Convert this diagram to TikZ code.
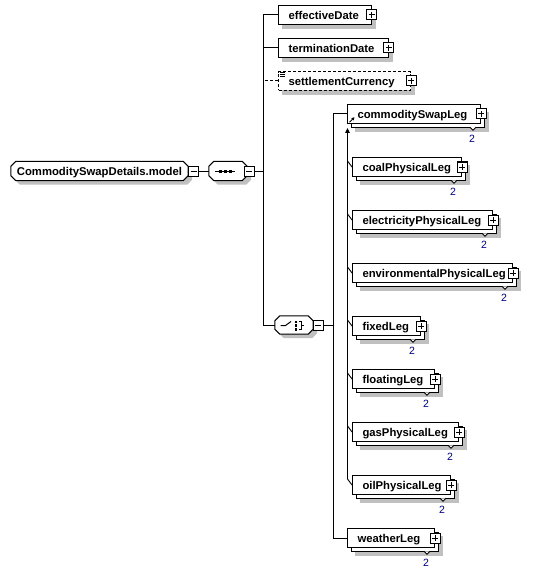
\documentclass[tikz,border=0pt]{standalone}
\usepackage{fontspec}
\setmainfont{Liberation Sans}
\usetikzlibrary{arrows.meta}
\pgfdeclarelayer{bgl}
\pgfdeclarelayer{midl}
\pgfsetlayers{bgl,midl,main}
\definecolor{shadowc}{RGB}{192,192,192}
\definecolor{occblue}{RGB}{0,0,128}
\newcommand{\elfont}{\bfseries\fontsize{11.3bp}{13bp}\selectfont}
\newcommand{\shadowof}[1]{\begin{pgfonlayer}{bgl}\fill[shadowc] ([shift={(4,4)}]#1.north west) rectangle ([shift={(4,4)}]#1.south east);\end{pgfonlayer}}
\newcommand{\octpath}[3]{([shift={(5+#2,#3)}]#1.north west) -- ([shift={(-5+#2,#3)}]#1.north east) -- ([shift={(#2,5+#3)}]#1.north east) -- ([shift={(#2,-5+#3)}]#1.south east) -- ([shift={(-5+#2,#3)}]#1.south east) -- ([shift={(5+#2,#3)}]#1.south west) -- ([shift={(#2,-5+#3)}]#1.south west) -- ([shift={(#2,5+#3)}]#1.north west) -- cycle}
\newcommand{\octdraw}[1]{%
  \begin{pgfonlayer}{bgl}\fill[shadowc] \octpath{#1}{4}{4};\end{pgfonlayer}
  \begin{pgfonlayer}{midl}\filldraw[fill=white,line width=1bp] \octpath{#1}{0}{0};\end{pgfonlayer}}
% stacked element: name, left, width, cy, text
\newcommand{\stackel}[5]{%
  \node[elbox, minimum width=#3bp] (#1b) at (#2+4,#4+4) {};
  \shadowof{#1b}
  \node[elbox] (#1) at (#2,#4) {\makebox[#3bp][l]{\hspace{10bp}#5}};
  \node[pmbox,plussign] (#1p) at (#1.east) {};
  \filldraw[vmark] (#2+#3-10,#4+13.25) -- ++(3,3) -- ++(3,-3);
  \node[occ] (#1n) at (#2+#3-8,#4+25) {2};
}
% single element: name, left, width, cy, text, extra style
\newcommand{\singleel}[6]{%
  \node[elbox,#6] (#1) at (#2,#4) {\makebox[#3bp][l]{\hspace{10bp}#5}};
  \shadowof{#1}
  \node[pmbox,plussign] (#1p) at (#1.east) {};
}
\tikzset{
  elbox/.style={draw=black, fill=white, line width=1bp, inner sep=0pt, anchor=west,
    minimum height=18.5bp, text height=10.2bp, text depth=0.8bp, font=\elfont},
  octnode/.style={draw=none, inner sep=0pt, minimum height=19bp, text height=10.2bp, text depth=0.8bp, font=\elfont},
  pmbox/.style={draw=black, fill=white, line width=1bp, minimum size=10bp, inner sep=0pt},
  plussign/.style={path picture={\draw[line width=1bp] ([xshift=2bp]path picture bounding box.west) -- ([xshift=-2bp]path picture bounding box.east) ([yshift=-2bp]path picture bounding box.north) -- ([yshift=2bp]path picture bounding box.south);}},
  minussign/.style={path picture={\draw[line width=1bp] ([xshift=2bp]path picture bounding box.west) -- ([xshift=-2bp]path picture bounding box.east);}},
  vmark/.style={draw=black, fill=white, line width=0.8bp},
  occ/.style={inner sep=0pt, text=occblue, font=\fontsize{10.5bp}{12bp}\selectfont},
  conn/.style={draw=black, line width=1bp},
  dashbox/.style={dash pattern=on 3bp off 2bp},
}
\begin{document}
\begin{tikzpicture}[x=1bp,y=-1bp]
\useasboundingbox (0,0) rectangle (536,574);
\begin{pgfonlayer}{bgl}\fill[white] (0,0) rectangle (536,574);\end{pgfonlayer}

% root model
\node[octnode, minimum width=177bp] (model) at (99.5,171) {CommoditySwapDetails.model};
\octdraw{model}
\node[pmbox,minussign] (modelm) at (193.5,171) {};

% sequence compositor
\node[octnode, minimum width=38bp] (seq) at (228,171) {};
\octdraw{seq}
\begin{scope}[shift={(seq.center)}]
  \draw[line width=1bp] (-13,0) -- (7,0);
  \fill (-9.5,-1.5) rectangle ++(3,3);
  \fill (-4.5,-1.5) rectangle ++(3,3);
  \fill (0.5,-1.5) rectangle ++(3,3);
\end{scope}
\node[pmbox,minussign] (seqm) at (249,171) {};

% choice compositor
\node[octnode, minimum width=38bp, minimum height=18bp] (choice) at (294,325) {};
\octdraw{choice}
\begin{scope}[shift={(choice.center)}]
  \draw[line width=1bp] (-13.5,0.5) -- (-8.5,0.5) -- (-3,-3.5);
  \fill (1,-4.5) rectangle ++(2.2,2.2);
  \fill (1,-0.6) rectangle ++(2.2,2.2);
  \fill (1,3.3) rectangle ++(2.2,2.2);
  \draw[line width=1bp] (5,-3.5) -- (7.5,-3.5) -- (7.5,4.5) -- (5,4.5) (7.5,0.5) -- (10,0.5);
\end{scope}
\node[pmbox,minussign] (choicem) at (318,325) {};

% sequence children
\singleel{eff}{278}{92.5}{15}{effectiveDate}{}
\singleel{term}{278}{109.5}{48}{terminationDate}{}
\singleel{settle}{278}{132}{81}{settlementCurrency}{dashbox}
\begin{scope}[shift={(settle.north west)}]
  \draw[line width=0.7bp] (2,1.5) -- (7,1.5) (2,3.5) -- (7,3.5) (2,5.5) -- (7,5.5);
\end{scope}

% choice children
\stackel{csl}{347}{133}{114}{commoditySwapLeg}
\stackel{coal}{352}{109}{167}{coalPhysicalLeg}
\stackel{elec}{352}{140}{220}{electricityPhysicalLeg}
\stackel{env}{352}{160}{273}{environmentalPhysicalLeg}
\stackel{fixed}{352}{68}{326}{fixedLeg}
\stackel{float}{352}{82}{379}{floatingLeg}
\stackel{gas}{352}{106}{432}{gasPhysicalLeg}
\stackel{oil}{352}{98}{485}{oilPhysicalLeg}
\stackel{weather}{347}{87}{538}{weatherLeg}

% substitution-group head mark
\draw[line width=0.8bp, -{Triangle[width=3bp,length=3bp]}] ([shift={(2.5,-1.5)}]csl.south west) -- ++(5,-5);

% connectors
\coordinate (j1) at (263,171);
\coordinate (j2) at (333,325);
\draw[conn] (modelm.east) -- (seq.west);
\draw[conn] (seqm.east) -- (j1);
\draw[conn] (eff.west) -| (j1);
\draw[conn] (j1) |- (choice.west);
\draw[conn] (term.west) -- (term.west -| j1);
\draw[conn, dashbox] (settle.west) -- (settle.west -| j1);
\draw[conn] (choicem.east) -- (j2);
\draw[conn] (csl.west) -| (j2);
\draw[conn] (j2) |- (weather.west);

% substitution group line
\coordinate (subtop) at (347.5,128);
\coordinate (subbot) at (347.5,479);
\draw[conn, {Triangle[width=4.5bp,length=5bp]}-] (subtop) -- (subbot);
\foreach \m in {coal,elec,env,fixed,float,gas,oil}{
  \draw[line width=0.9bp] (\m.west -| subtop) ++(0,-6) -- (\m.west);
}
\end{tikzpicture}
\end{document}
